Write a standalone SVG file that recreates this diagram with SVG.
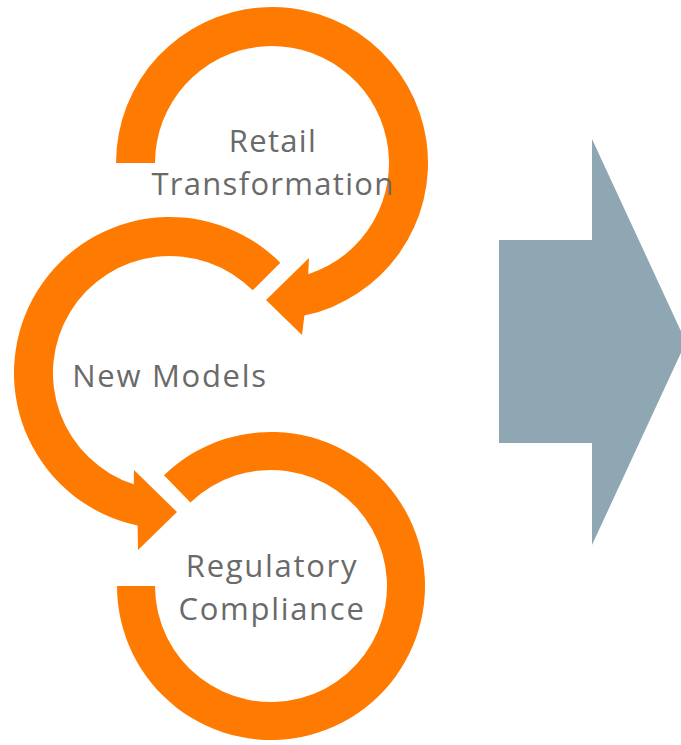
<svg xmlns="http://www.w3.org/2000/svg" width="681" height="745" viewBox="0 0 681 745">
  <style>
    .ring { fill: #FF7A00; stroke: #FFFFFF; stroke-width: 6; stroke-linejoin: miter; paint-order: stroke fill; }
    .label { font-family: "Open Sans", "Noto Sans", "Liberation Sans", sans-serif; font-size: 31px; fill: #6A6A6A; text-anchor: middle; letter-spacing: 1.3px; }
    .wide { letter-spacing: 1.7px; }
    .block { fill: #8FA7B3; }
  </style>
  <rect width="681" height="745" fill="#FFFFFF"/>

  <!-- bottom cycle: ring with no head, open at the left -->
  <g id="regulatory-compliance">
    <path class="ring" d="M 164.0 475.2 A 154 154 0 1 1 117 586 L 155 586 A 116 116 0 1 0 190.4 502.6 Z"/>
    <text class="label wide" x="272" y="577">Regulatory</text>
    <text class="label wide" x="272" y="620">Compliance</text>
  </g>

  <!-- middle cycle: counter-clockwise ring, head pointing into the bottom cycle -->
  <g id="new-models">
    <path class="ring" d="M 280.3 262.7 A 156 156 0 1 0 137.6 525.6 L 138 550 L 177 512 L 134 470 L 133.8 484.3 A 117 117 0 1 1 252.7 290.3 Z"/>
    <text class="label wide" x="170" y="387">New Models</text>
  </g>

  <!-- top cycle: clockwise ring, head pointing into the middle cycle -->
  <g id="retail-transformation">
    <path class="ring" d="M 116 163 A 156 156 0 1 1 304.4 315.6 L 302 335 L 266 300 L 309 258 L 308.2 274.3 A 117 117 0 1 0 155 163 Z"/>
    <text class="label" x="273" y="152">Retail</text>
    <text class="label" x="273" y="195">Transformation</text>
  </g>

  <!-- block arrow leading right -->
  <g id="connectors">
    <polygon class="block" points="499,240 592,240 592,139 686,342 592,545 592,443 499,443"/>
  </g>
</svg>
